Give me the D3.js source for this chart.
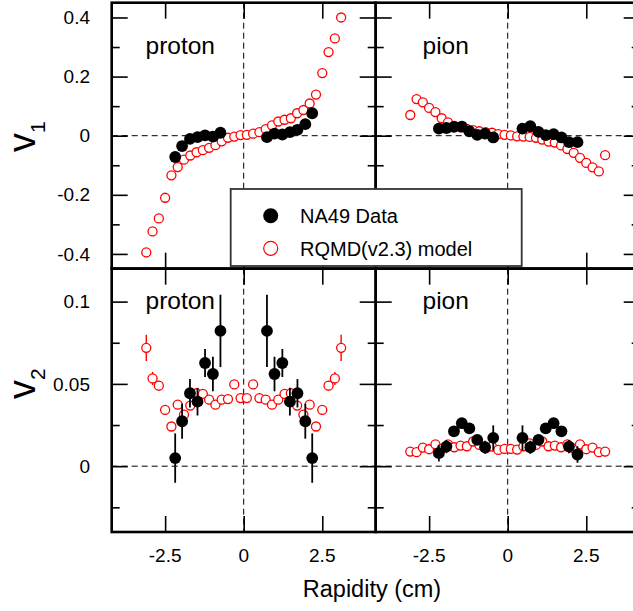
<!DOCTYPE html>
<html><head><meta charset="utf-8">
<script src="https://cdn.jsdelivr.net/npm/d3@7/dist/d3.min.js"></script>
<style>html,body{margin:0;padding:0;background:#fff;} svg{display:block;}</style>
</head><body>
<svg id="c" width="633" height="611"></svg>
<script>
// ---------- data ----------
const modelRap = [-3.1,-2.9,-2.7,-2.5,-2.3,-2.1,-1.9,-1.7,-1.5,-1.3,-1.1,-0.9,-0.7,-0.5,-0.3,-0.1,0.1,0.3,0.5,0.7,0.9,1.1,1.3,1.5,1.7,1.9,2.1,2.3,2.5,2.7,2.9,3.1];
const protonV1Model = [-0.395,-0.324,-0.280,-0.210,-0.134,-0.106,-0.081,-0.067,-0.056,-0.049,-0.041,-0.032,-0.019,-0.007,-0.003,0.002,0.003,0.007,0.012,0.022,0.035,0.048,0.054,0.059,0.076,0.087,0.109,0.139,0.212,0.283,0.329,0.400];
const pionV1Model = [0.070,0.124,0.113,0.094,0.080,0.059,0.045,0.033,0.028,0.023,0.019,0.015,0.012,0.010,0.005,0.003,0.001,-0.002,-0.003,-0.004,-0.007,-0.013,-0.020,-0.023,-0.033,-0.045,-0.058,-0.075,-0.092,-0.107,-0.121,-0.066];
const protonV2Model = [0.0719,0.0533,0.0489,0.0342,0.0241,0.0374,0.0313,0.0368,0.0443,0.0439,0.0404,0.0374,0.0404,0.0408,0.0497,0.0414,0.0414,0.0497,0.0414,0.0404,0.0374,0.0404,0.0439,0.0443,0.0368,0.0313,0.0374,0.0241,0.0342,0.0489,0.0533,0.0719];
const protonV2ModelErr = [0.008,0.004,0.003,0.003,0.002,0.002,0.002,0.002,0.002,0.002,0.002,0.002,0.002,0.002,0.002,0.002,0.002,0.002,0.002,0.002,0.002,0.002,0.002,0.002,0.002,0.002,0.002,0.002,0.003,0.003,0.004,0.008];
const pionV2Model = [0.0089,0.0085,0.0113,0.0103,0.0133,0.0107,0.0133,0.0115,0.0125,0.0121,0.0150,0.0129,0.0109,0.0119,0.0099,0.0105,0.0105,0.0101,0.0121,0.0139,0.0129,0.0150,0.0121,0.0125,0.0115,0.0133,0.0107,0.0133,0.0103,0.0113,0.0085,0.0089];

const protonRap = [-2.18,-1.96,-1.71,-1.47,-1.23,-0.98,-0.74,0.74,0.98,1.23,1.47,1.71,1.96,2.18];
const protonV1Data = [-0.072,-0.035,-0.011,-0.005,0.001,-0.003,0.010,-0.005,0.007,0.004,0.012,0.020,0.039,0.076];
const protonV2Data = [0.0049,0.0273,0.0443,0.0392,0.0627,0.0560,0.0822,0.0822,0.0560,0.0627,0.0392,0.0443,0.0273,0.0049];
const protonV2Err = [0.015,0.0106,0.0086,0.0084,0.0085,0.0105,0.022,0.022,0.0105,0.0085,0.0084,0.0086,0.0106,0.015];

const pionRap = [-2.19,-1.95,-1.71,-1.46,-1.22,-0.97,-0.72,-0.46,0.47,0.72,0.98,1.21,1.46,1.71,1.95,2.22];
const pionV1Data = [0.024,0.026,0.030,0.031,0.015,0.003,0.007,-0.006,0.024,0.032,0.013,0.002,0.005,-0.006,-0.022,-0.022];
const pionV2Data = [0.0079,0.0119,0.0212,0.0261,0.0230,0.0160,0.0115,0.0172,0.0172,0.0115,0.0160,0.0230,0.0261,0.0212,0.0119,0.0071];
const pionV2Err = [0.005,0.004,0.002,0.002,0.002,0.003,0.004,0.0076,0.0076,0.004,0.003,0.002,0.002,0.002,0.004,0.005];

const xTicks = [-2.5, 0, 2.5];
const v1Ticks = [0.4, 0.2, 0, -0.2, -0.4];
const v1Minor = [0.3, 0.1, -0.1, -0.3];
const v2Ticks = [0.1, 0.05, 0];
const v2Minor = [0.075, 0.025, -0.025];
const panelLabels = ["proton", "pion"];
const legendLabels = ["NA49 Data", "RQMD(v2.3) model"];

// ---------- layout ----------
const FONT = "'Liberation Sans', Arial, Helvetica, sans-serif";
const svg = d3.select("#c");
const colX = [111.7, 375.7], panelW = 264;
const rows = [{y0: 2.7, y1: 268.7, dom: [-0.45, 0.45], major: v1Ticks, minor: v1Minor},
              {y0: 268.7, y1: 532, dom: [-0.04, 0.12], major: v2Ticks, minor: v2Minor}];

const series = [
  [ {model: protonV1Model, data: protonV1Data, rap: protonRap},
    {model: pionV1Model, data: pionV1Data, rap: pionRap} ],
  [ {model: protonV2Model, modelErr: protonV2ModelErr, data: protonV2Data, err: protonV2Err, rap: protonRap},
    {model: pionV2Model, data: pionV2Data, err: pionV2Err, rap: pionRap} ]
];

const panels = [];
rows.forEach((r, ri) => {
  colX.forEach((cx, ci) => {
    const x = d3.scaleLinear().domain([-4.2, 4.2]).range([cx, cx + panelW]);
    const y = d3.scaleLinear().domain(r.dom).range([r.y1, r.y0]);
    panels.push({ri, ci, x, y, r});
  });
});

panels.forEach(p => {
  const g = svg.append("g");
  const {x, y, r} = p;
  const s = series[p.ri][p.ci];
  // dashed zero lines
  g.append("line").attr("x1", x.range()[0]).attr("x2", x.range()[1]).attr("y1", y(0)).attr("y2", y(0))
    .attr("stroke", "#000").attr("stroke-width", 1).attr("stroke-dasharray", "6,4");
  g.append("line").attr("x1", x(0)).attr("x2", x(0)).attr("y1", r.y0).attr("y2", r.y1)
    .attr("stroke", "#000").attr("stroke-width", 1).attr("stroke-dasharray", "6,4");

  // ticks via d3 axes (inward)
  const [xl, xr] = x.range();
  const mk = (axis, tr) => g.append("g").attr("transform", tr).call(axis)
      .call(a => a.select(".domain").remove())
      .call(a => a.selectAll("text").remove())
      .call(a => a.selectAll("line").attr("stroke", "#000").attr("stroke-width", 1.6));
  mk(d3.axisRight(y).tickValues(r.major).tickSize(16), `translate(${xl},0)`);
  mk(d3.axisRight(y).tickValues(r.minor).tickSize(8), `translate(${xl},0)`);
  mk(d3.axisLeft(y).tickValues(r.major).tickSize(16), `translate(${xr},0)`);
  mk(d3.axisLeft(y).tickValues(r.minor).tickSize(8), `translate(${xr},0)`);
  mk(d3.axisBottom(x).tickValues(xTicks).tickSize(16), `translate(0,${r.y0})`);
  mk(d3.axisTop(x).tickValues(xTicks).tickSize(16), `translate(0,${r.y1})`);

  // model points
  const md = modelRap.map((v, i) => ({x: v, y: s.model[i], e: s.modelErr ? s.modelErr[i] : 0}));
  g.selectAll(".merr").data(md.filter(d => d.e > 0)).join("line")
    .attr("x1", d => x(d.x)).attr("x2", d => x(d.x))
    .attr("y1", d => y(d.y + d.e)).attr("y2", d => y(d.y - d.e))
    .attr("stroke", "#ff0000").attr("stroke-width", 1.4);
  g.selectAll(".mpt").data(md).join("circle")
    .attr("cx", d => x(d.x)).attr("cy", d => y(d.y)).attr("r", 4.5)
    .attr("fill", "#fff").attr("stroke", "#ff0000").attr("stroke-width", 1.3);

  // data points
  const dd = s.rap.map((v, i) => ({x: v, y: s.data[i], e: s.err ? s.err[i] : 0}));
  g.selectAll(".derr").data(dd.filter(d => d.e > 0)).join("line")
    .attr("x1", d => x(d.x)).attr("x2", d => x(d.x))
    .attr("y1", d => y(d.y + d.e)).attr("y2", d => y(d.y - d.e))
    .attr("stroke", "#000").attr("stroke-width", 1.8);
  g.selectAll(".dpt").data(dd).join("circle")
    .attr("cx", d => x(d.x)).attr("cy", d => y(d.y)).attr("r", 5.9)
    .attr("fill", "#000");

  // frame
  g.append("rect").attr("x", xl).attr("y", r.y0).attr("width", xr - xl).attr("height", r.y1 - r.y0)
    .attr("fill", "none").attr("stroke", "#000").attr("stroke-width", 2.6);

  // panel label
  g.append("text").attr("x", p.ci === 0 ? 145.5 : 422.5).attr("y", r.y0 + (p.ri === 0 ? 51 : 40))
    .attr("font-family", FONT).attr("font-size", 24.5).attr("fill", "#000")
    .text(panelLabels[p.ci]);

  // y tick labels (left column only)
  if (p.ci === 0) {
    g.selectAll(".yl").data(r.major).join("text")
      .attr("x", 90).attr("y", d => y(d)).attr("dy", "0.35em")
      .attr("text-anchor", "end").attr("font-family", FONT).attr("font-size", 19)
      .text(d => String(d));
  }
  // x tick labels (bottom row)
  if (p.ri === 1) {
    g.selectAll(".xl").data(xTicks).join("text")
      .attr("x", d => x(d)).attr("y", 562)
      .attr("text-anchor", "middle").attr("font-family", FONT).attr("font-size", 19)
      .text(d => String(d));
  }
});

// axis titles
const yTitle = (sub, tx, ty) => {
  const t = svg.append("text").attr("transform", `translate(${tx},${ty}) rotate(-90)`)
    .attr("font-family", FONT).attr("fill", "#000");
  t.append("tspan").attr("font-size", 38).text("v");
  t.append("tspan").attr("font-size", 21).attr("dy", 10).text(sub);
};
yTitle("1", 35, 152);
yTitle("2", 35, 399);

svg.append("text").attr("x", 372).attr("y", 597).attr("text-anchor", "middle")
  .attr("font-family", FONT).attr("font-size", 23.5).text("Rapidity (cm)");

// legend
const lg = svg.append("g");
lg.append("rect").attr("x", 230.7).attr("y", 189).attr("width", 291).attr("height", 77)
  .attr("fill", "#fff").attr("stroke", "#333").attr("stroke-width", 1.8);
lg.append("circle").attr("cx", 270.7).attr("cy", 215.7).attr("r", 7.5).attr("fill", "#000");
lg.append("circle").attr("cx", 270.7).attr("cy", 248.3).attr("r", 7).attr("fill", "#fff")
  .attr("stroke", "#ff0000").attr("stroke-width", 1.2);
lg.selectAll(".lt").data(legendLabels).join("text")
  .attr("x", 300).attr("y", (d, i) => i === 0 ? 222.7 : 255.5)
  .attr("font-family", FONT).attr("font-size", 20).text(d => d);
// horizontal divider redrawn over legend bottom
svg.append("line").attr("x1", colX[0]).attr("x2", colX[1] + panelW).attr("y1", rows[0].y1).attr("y2", rows[0].y1)
  .attr("stroke", "#000").attr("stroke-width", 2.6);
</script>
</body></html>
